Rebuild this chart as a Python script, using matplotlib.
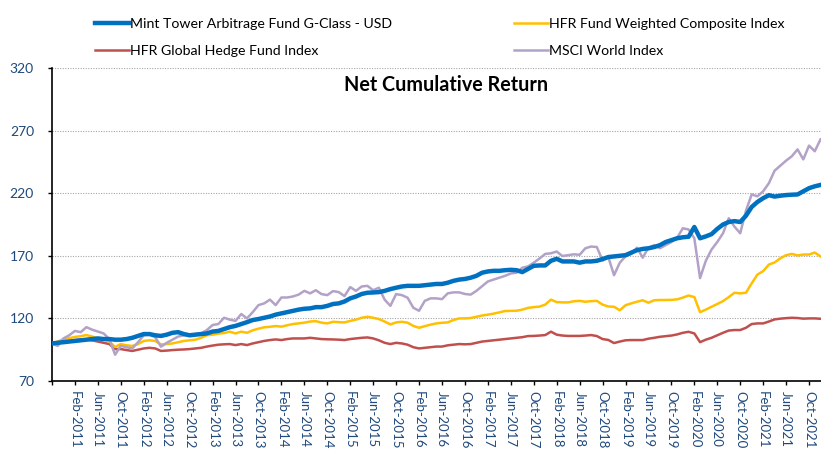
import numpy as np
import pandas as pd
import matplotlib
matplotlib.use("Agg")
import matplotlib.pyplot as plt

plt.rcParams["font.family"] = ["Lato", "DejaVu Sans"]

# monthly cumulative return index, Oct-2010 = 100 ... Dec-2021
dates = pd.date_range("2010-10-31", periods=135, freq="ME")

mint_tower = [
    100, 100.5, 101, 101.5, 102, 102.5, 103, 103.5, 104, 103.5,
    103.5, 103, 103, 103.5, 104.5, 106, 107.5, 107.5, 106.5, 106,
    107, 108.5, 109, 107.5, 106.5, 107, 107.5, 108, 109.5, 110,
    111.5, 113, 114, 115.5, 117, 118.7, 119.5, 120.5, 121.5, 123,
    124, 125, 126, 127, 127.7, 128, 129, 129, 130, 131.5,
    132, 133.5, 136, 137.5, 139.5, 140.5, 140.7, 141, 142, 143.4,
    144.5, 145.5, 146, 146, 146, 146.5, 147, 147.5, 147.5, 148.5,
    150, 151, 151.5, 152.5, 154, 156.5, 157.5, 158, 158, 158.5,
    158.8, 158.5, 157, 159.5, 162, 162.3, 162.3, 166, 167.6, 165.5,
    165.5, 165.5, 164.5, 165.5, 165.5, 166, 167.4, 169, 169.5, 170,
    170.5, 172.5, 174.5, 175.5, 176, 177, 178.5, 181, 182.5, 184,
    184.8, 185.2, 193, 184, 185.5, 187.3, 191.5, 195, 197, 197.7,
    197, 202, 209, 213, 216, 218.4, 217.3, 218, 218.5, 218.8,
    219, 221.5, 224, 225.5, 226.6,
]

hfr_composite = [
    100, 101.5, 103.3, 104.2, 105.2, 105.8, 106.7, 105.5, 104, 103.5,
    101.5, 97.2, 99.5, 98.5, 98, 99.5, 102, 102.5, 102, 99.2,
    99.5, 100, 101, 102, 102.5, 103, 104.5, 106.5, 107, 107.8,
    108.3, 109.4, 108, 109.4, 108.5, 110.5, 111.8, 112.9, 113.3, 113.9,
    113.4, 114.5, 115.5, 116, 116.6, 117.5, 117.8, 116.6, 116, 117.3,
    117, 116.8, 118, 119, 120.5, 121.3, 120.5, 119.5, 117.5, 115.2,
    116.8, 117.3, 116.6, 114, 112.5, 113.8, 115, 116, 116.5, 116.8,
    118.7, 120, 120, 120.3, 121.3, 122.3, 123, 123.8, 124.8, 125.9,
    126, 126.1, 127, 128.4, 129, 129.4, 131, 135, 133, 132.8,
    132.8, 133.7, 134, 133.3, 133.8, 134, 131, 129.5, 129.3, 126.5,
    130.5, 132, 133.3, 134.5, 132.5, 134.5, 134.7, 134.7, 134.8, 135.2,
    136.6, 138.3, 137, 125, 127, 129.3, 131.5, 133.8, 137, 140.5,
    140, 140.5, 148, 155, 157.8, 163, 164.7, 168, 170.5, 171.5,
    170.3, 171, 171, 172.6, 169.5,
]

hfr_global = [
    100, 100.8, 101.4, 102, 102.7, 103, 103.2, 102.5, 101.5, 100.5,
    99.5, 95.5, 95.5, 94.7, 94, 95, 96, 96.5, 96, 94,
    94.3, 94.7, 95, 95.2, 95.5, 96, 96.5, 97.5, 98.3, 99,
    99.3, 99.5, 98.7, 99.5, 98.7, 100, 101, 102, 102.7, 103.2,
    102.7, 103.5, 104, 104, 104, 104.5, 104, 103.5, 103.3, 103.2,
    103, 102.7, 103.5, 104, 104.5, 104.8, 104, 102.5, 100.5, 99.5,
    100.5, 100, 99, 97, 96, 96.5, 97, 97.5, 97.5, 98.5,
    99, 99.5, 99.3, 99.5, 100.5, 101.5, 102, 102.5, 103, 103.5,
    104, 104.5, 105, 105.9, 106, 106.3, 106.7, 109.4, 107, 106.3,
    106, 106, 106, 106.3, 106.7, 105.9, 103.5, 102.8, 100.3, 101.5,
    102.5, 102.7, 102.7, 102.7, 103.8, 104.5, 105.3, 105.8, 106.3, 107.2,
    108.5, 109.3, 108, 101, 103, 104.5, 106.5, 108.5, 110.3, 110.7,
    110.7, 112.5, 115.5, 116, 116, 117.5, 119.2, 119.8, 120.2, 120.5,
    120.3, 119.8, 120, 120, 119.7,
]

msci_world = [
    100, 98, 104, 106.5, 110, 109, 113, 111, 109.5, 108,
    103.5, 91, 98, 97, 96, 101, 106.5, 107, 105, 97.4,
    100.5, 103, 105.5, 106.5, 107.3, 107.5, 108, 110.7, 114.7, 115.5,
    120.5, 119, 118, 123.5, 120, 125, 130.6, 132, 135, 130.6,
    136.7, 136.7, 137.5, 139, 142, 140, 142.5, 139.4, 138.6, 141.8,
    141, 137.8, 145, 142, 145.5, 146, 142.5, 144.5, 135, 130,
    139.4, 138.6, 136.5, 128.5, 126.1, 134, 136, 136, 135.4, 140,
    140.8, 140.8, 139.5, 139, 142, 145.8, 149.5, 151, 152.5, 154,
    155.9, 156.5, 160.5, 161.5, 164.5, 167.8, 171.5, 172, 173.4, 169.8,
    170.5, 171.2, 170.8, 176, 177.4, 177, 166.2, 169, 154.5, 164.5,
    169.5, 171.5, 176.5, 168.5, 176.5, 178.5, 176, 178.5, 181, 184.5,
    192, 191, 184, 152.2, 166, 175, 181, 188, 200, 193.3,
    188, 206, 219, 217.5, 221.5, 228, 238, 242, 246, 249.5,
    255, 247, 258, 253.5, 263,
]

labels = ["Mint Tower Arbitrage Fund G-Class - USD", "HFR Global Hedge Fund Index",
          "HFR Fund Weighted Composite Index", "MSCI World Index"]
colors = ["#0070C0", "#C0504D", "#FFC000", "#B3A2C7"]
y_ticks = [70, 120, 170, 220, 270, 320]

x = np.arange(len(dates))
fig = plt.figure(figsize=(8.21, 4.5), dpi=100)
ax = fig.add_axes([52 / 821, 69 / 450, 768.5 / 821, 313 / 450])

series = [mint_tower, hfr_global, hfr_composite, msci_world]
widths = [3.2, 1.8, 1.8, 1.8]
handles = []
for vals, lab, col, lw in zip(series, labels, colors, widths):
    z = 5 if lab.startswith("Mint") else 3
    h, = ax.plot(x, vals, color=col, lw=lw, label=lab, zorder=z)
    handles.append(h)

ax.set_xlim(x[0], x[-1])
ax.set_ylim(70, 320)
ax.set_yticks(y_ticks)
ax.grid(True, axis="y", color="#A6A6A6", linestyle=(0, (1, 1.3)), lw=0.8)
ax.set_axisbelow(True)

tick_pos = x[::4]
tick_lab = [""] + [d.strftime("%b-%Y") for d in dates[::4][1:]]
ax.set_xticks(tick_pos)
ax.set_xticklabels(tick_lab, rotation=270, fontsize=9.5, color="#1F497D")
ax.tick_params(axis="x", length=3, width=1, pad=4)
ax.tick_params(axis="y", length=3, width=1, pad=10, labelsize=10, labelcolor="#1F497D")

for s in ["top", "right"]:
    ax.spines[s].set_visible(False)
for s in ["left", "bottom"]:
    ax.spines[s].set_linewidth(1.2)

fig.text(446 / 821, 1 - 85 / 450, "Net Cumulative Return", ha="center", va="center",
         fontsize=14.2, fontweight="bold")

fig.legend(handles=handles, loc="upper left", bbox_to_anchor=(82 / 821, 1 - 5 / 450),
           ncol=2, frameon=False, fontsize=10.2, handlelength=2.4, handletextpad=0.1,
           columnspacing=8.6, labelspacing=1.05)

fig.savefig("out.png", dpi=100)
